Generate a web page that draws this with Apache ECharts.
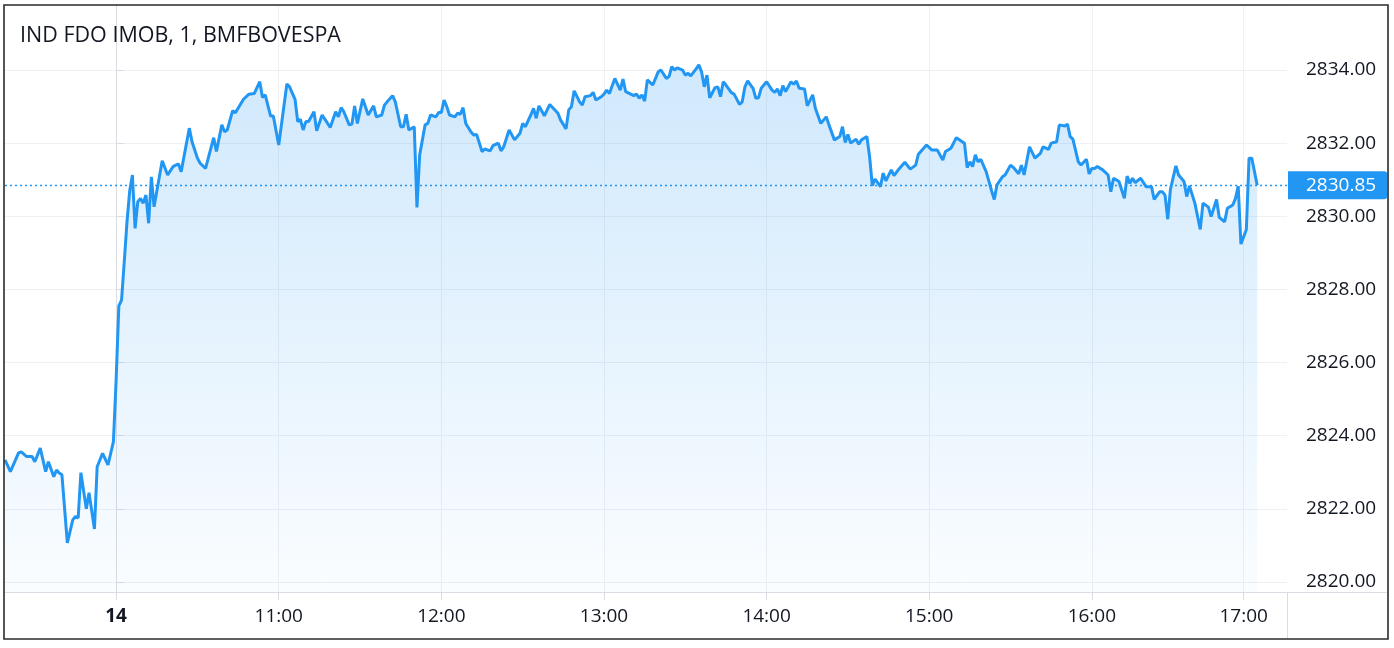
<!DOCTYPE html>
<html>
<head>
<meta charset="utf-8">
<script src="https://cdn.jsdelivr.net/npm/echarts@6/dist/echarts.min.js"></script>
<style>
html,body{margin:0;padding:0;background:#fff;}
#chart{width:1394px;height:648px;}
</style>
</head>
<body>
<div id="chart"></div>
<script>
// Bar index: 1-minute bars counted from the 10:00 open of day 14 (negative = previous session)
var bars = [-41,-39,-36,-35,-33,-31,-30,-28,-26,-25,-23,-22,-21,-20,-18,-16,-15,-14,-13,-11,-10,-8,-7,-5,-3,-1,
0,1,2,3,4,5,6,7,8,9,10,11,12,13,14,17,19,21,22,23,24,27,28,30,31,33,36,37,39,40,41,43,44,47,49,51,53,54,55,57,58,
60,63,64,66,67,68,69,70,71,73,74,76,79,81,82,83,84,86,87,88,89,91,93,95,96,98,99,100,102,103,105,106,107,108,110,111,112,114,115,116,118,119,
120,121,122,123,125,126,127,128,129,131,132,133,135,136,138,139,141,142,143,145,147,149,150,151,153,154,155,156,158,160,163,164,166,167,168,169,171,172,173,175,176,177,179,
180,181,182,184,186,187,188,191,192,193,194,195,196,198,200,201,203,204,205,206,207,209,210,211,212,214,215,216,217,218,219,221,222,223,224,225,227,228,230,231,232,233,235,236,237,238,
240,242,243,244,245,246,247,249,250,251,252,254,255,257,258,260,262,263,265,267,268,269,270,271,273,274,275,277,278,279,280,282,283,284,286,287,289,291,293,295,296,299,
301,303,305,306,308,310,313,314,315,316,317,318,319,321,323,324,325,327,328,330,331,333,334,335,337,339,341,342,344,345,347,348,350,351,352,353,355,356,358,359,
360,361,362,364,366,367,368,370,372,373,374,375,376,378,380,382,383,385,386,387,388,389,391,392,394,395,396,398,400,401,403,404,406,407,409,410,412,413,414,415,417,418,419,421];

var prices = [2823.34,2823.02,2823.53,2823.56,2823.43,2823.43,2823.29,2823.66,2823.02,2823.29,2822.88,2823.06,2822.98,2822.93,2821.07,2821.70,2821.79,2821.75,2822.99,2822.00,2822.44,2821.45,2823.15,2823.52,2823.20,2823.84,
2825.52,2827.55,2827.71,2828.75,2829.84,2830.69,2831.13,2829.67,2830.40,2830.49,2830.36,2830.58,2829.81,2831.08,2830.26,2831.52,2831.13,2831.36,2831.40,2831.43,2831.22,2832.41,2832.04,2831.59,2831.45,2831.31,2832.15,2831.77,2832.50,2832.31,2832.36,2832.89,2832.83,2833.20,2833.34,2833.36,2833.68,2833.25,2833.32,2832.74,2832.74,
2831.95,2833.62,2833.54,2833.20,2832.59,2832.65,2832.36,2832.59,2832.59,2832.86,2832.34,2832.77,2832.43,2832.86,2832.72,2832.97,2832.86,2832.50,2832.52,2833.02,2832.54,2833.21,2832.77,2833.02,2832.72,2832.77,2833.04,2833.13,2833.30,2833.13,2832.45,2832.45,2832.79,2832.36,2832.45,2830.24,2831.68,2832.50,2832.54,2832.77,2832.72,2832.84,
2832.84,2833.18,2833.00,2832.77,2832.72,2832.82,2832.79,2832.97,2832.54,2832.30,2832.22,2832.24,2831.77,2831.84,2831.79,2831.93,2832.00,2831.79,2831.90,2832.36,2832.09,2832.27,2832.54,2832.45,2832.77,2832.95,2832.68,2833.02,2832.75,2833.06,2832.82,2832.63,2832.39,2832.91,2833.00,2833.43,2833.13,2833.04,2833.27,2833.30,2833.39,2833.18,2833.27,
2833.34,2833.45,2833.36,2833.77,2833.45,2833.75,2833.41,2833.30,2833.34,2833.23,2833.32,2833.15,2833.73,2833.59,2833.95,2834.00,2833.77,2833.82,2834.09,2834.00,2834.06,2834.00,2833.86,2833.91,2833.84,2834.03,2834.14,2833.95,2833.54,2833.86,2833.24,2833.52,2833.54,2833.27,2833.68,2833.59,2833.38,2833.34,2833.06,2833.13,2833.54,2833.70,2833.50,2833.23,2833.24,2833.50,
2833.68,2833.45,2833.39,2833.48,2833.30,2833.57,2833.41,2833.68,2833.61,2833.70,2833.50,2833.48,2833.02,2833.32,2832.95,2832.54,2832.72,2832.50,2832.09,2832.18,2832.45,2832.02,2832.24,2832.00,2832.11,2831.97,2832.09,2832.18,2831.63,2830.84,2831.02,2830.81,2831.18,2830.97,2831.27,2831.11,2831.31,2831.48,2831.29,2831.40,2831.70,2831.95,
2831.81,2831.81,2831.54,2831.77,2831.86,2832.15,2832.00,2831.33,2831.49,2831.36,2831.68,2831.49,2831.56,2831.22,2830.70,2830.46,2830.86,2831.08,2831.13,2831.40,2831.34,2831.16,2831.40,2831.13,2831.90,2831.59,2831.72,2831.90,2831.83,2832.00,2832.04,2832.50,2832.47,2832.52,2832.18,2832.11,2831.49,2831.40,2831.56,2831.16,
2831.31,2831.31,2831.36,2831.27,2831.13,2830.67,2831.04,2830.95,2830.49,2831.10,2830.90,2831.04,2830.92,2831.04,2830.81,2830.81,2830.46,2830.67,2830.67,2830.58,2829.92,2830.74,2831.38,2831.13,2830.95,2830.54,2830.83,2830.36,2829.64,2830.36,2830.25,2829.99,2830.46,2829.97,2829.85,2830.22,2830.31,2830.49,2830.83,2829.24,2829.64,2831.59,2831.59,2830.85];

var lastPrice = 2830.85;
var titleText = 'IND FDO IMOB, 1, BMFBOVESPA';
var tickBars = [0, 60, 120, 180, 240, 300, 360, 416];
var tickLabels = ['14', '11:00', '12:00', '13:00', '14:00', '15:00', '16:00', '17:00'];

var FONT = '"Open Sans", "Noto Sans", sans-serif';
var TXT = '#131722';
var GRID = '#eef0f4';
var AXIS = '#d9dce3';
var BLUE = '#2196f3';

var chart = echarts.init(document.getElementById('chart'), null, {renderer: 'canvas'});
var seriesData = bars.map(function (b, i) { return [b, prices[i]]; });

chart.setOption({
  animation: false,
  backgroundColor: '#fff',
  title: {
    text: titleText, left: 20, top: 25, padding: 0,
    textStyle: {fontFamily: FONT, fontSize: 21.5, fontWeight: 'normal', color: TXT}
  },
  grid: {left: 5, right: 107, top: 5, bottom: 56},
  xAxis: {
    type: 'value', min: -41, max: 432,
    axisLine: {show: true, lineStyle: {color: AXIS, width: 1}},
    axisTick: {show: true, customValues: tickBars, length: 8, lineStyle: {color: AXIS}},
    splitLine: {show: true, lineStyle: {color: GRID, width: 1}},
    axisLabel: {
      customValues: tickBars, margin: 15,
      fontFamily: FONT, fontSize: 19, color: TXT,
      formatter: function (v) {
        var i = tickBars.indexOf(Math.round(v));
        if (i < 0) return '';
        return i === 0 ? '{b|' + tickLabels[i] + '}' : tickLabels[i];
      },
      rich: {b: {fontFamily: FONT, fontSize: 19, fontWeight: 'bold', color: TXT}}
    }
  },
  yAxis: {
    type: 'value', position: 'right', scale: true,
    min: 2819.7266, max: 2835.778, splitNumber: 8,
    axisLine: {show: true, lineStyle: {color: AXIS, width: 1}},
    axisTick: {show: true, length: 8, lineStyle: {color: AXIS}},
    splitLine: {show: true, lineStyle: {color: GRID, width: 1}},
    axisLabel: {
      margin: 19, showMinLabel: false, showMaxLabel: false,
      fontFamily: FONT, fontSize: 19, color: TXT,
      formatter: function (v) { return v.toFixed(2); }
    }
  },
  series: [{
    type: 'line',
    color: BLUE,
    data: seriesData,
    showSymbol: false,
    smooth: false,
    lineStyle: {color: BLUE, width: 3},
    itemStyle: {color: BLUE},
    areaStyle: {
      color: new echarts.graphic.LinearGradient(0, 0, 0, 1, [
        {offset: 0, color: 'rgba(33,150,243,0.30)'},
        {offset: 1, color: 'rgba(33,150,243,0.03)'}
      ])
    },
    markLine: {
      silent: true, symbol: 'none', animation: false,
      lineStyle: {color: BLUE, type: [2, 3], width: 1.4, opacity: 1},
      emphasis: {disabled: true},
      label: {
        show: true, position: 'end', distance: 1,
        formatter: function () { return lastPrice.toFixed(2); },
        backgroundColor: BLUE, color: '#fff',
        fontFamily: FONT, fontSize: 19, lineHeight: 20,
        padding: [4, 11, 4, 18], borderRadius: [0, 3, 3, 0]
      },
      data: [{yAxis: lastPrice, lineStyle: {color: BLUE}}]
    }
  }],
  graphic: [
    {type: 'line', silent: true, z: 0, shape: {x1: 1287.5, y1: 592, x2: 1287.5, y2: 639}, style: {stroke: AXIS, lineWidth: 1}},
    {type: 'line', silent: true, z: 0, shape: {x1: 1287, y1: 592.5, x2: 1387, y2: 592.5}, style: {stroke: AXIS, lineWidth: 1}},
    {type: 'rect', silent: true, z: 100, shape: {x: 4, y: 5, width: 1384, height: 634}, style: {fill: 'none', stroke: '#2b2b2b', lineWidth: 1.6}}
  ]
});
</script>
</body>
</html>
